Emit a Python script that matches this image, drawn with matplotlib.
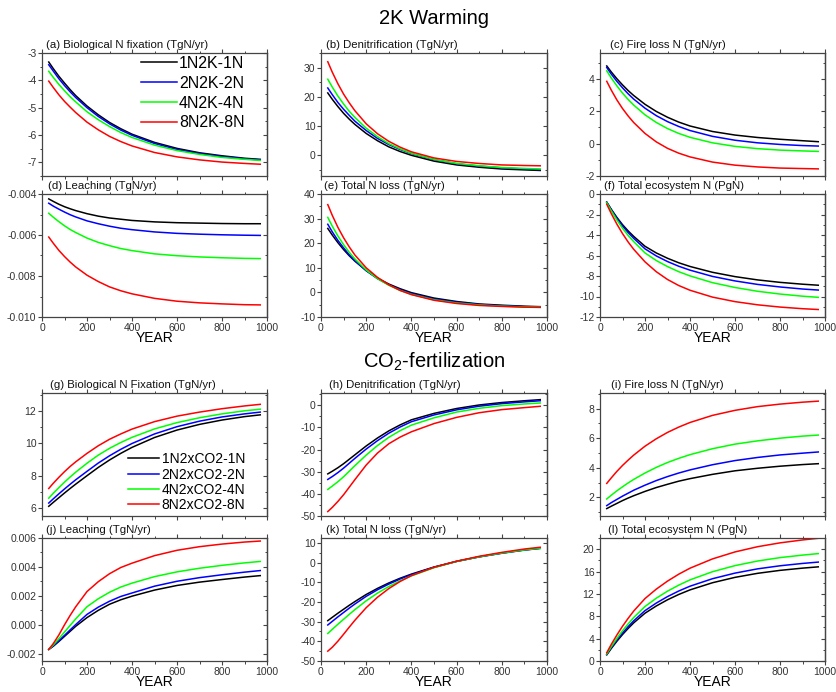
import matplotlib
matplotlib.use('Agg')
import matplotlib.pyplot as plt
from matplotlib.ticker import MultipleLocator, FormatStrFormatter

plt.rcParams['font.family'] = ['Liberation Sans', 'DejaVu Sans']
plt.rcParams['mathtext.fontset'] = 'custom'
plt.rcParams['mathtext.rm'] = 'Liberation Sans'
plt.rcParams['mathtext.it'] = 'Liberation Sans:italic'

# ---------------- data ----------------
years = [30, 50, 75, 100, 125, 150, 200, 250, 300, 350, 400, 500, 600, 700, 800, 900, 970]
labels_2k = ['1N2K-1N', '2N2K-2N', '4N2K-4N', '8N2K-8N']
labels_co2 = ['1N2xCO2-1N', '2N2xCO2-2N', '4N2xCO2-4N', '8N2xCO2-8N']
colors = ['#000000', '#0000ff', '#00ff00', '#ff0000']

# (a) Biological N fixation, 2K warming
fix_2k = [
    [-3.33, -3.57, -3.85, -4.10, -4.34, -4.56, -4.94, -5.26, -5.54, -5.77, -5.97, -6.27, -6.49, -6.65, -6.76, -6.85, -6.89],
    [-3.43, -3.66, -3.94, -4.19, -4.42, -4.63, -5.00, -5.32, -5.59, -5.82, -6.01, -6.31, -6.53, -6.68, -6.79, -6.87, -6.91],
    [-3.67, -3.89, -4.15, -4.38, -4.60, -4.79, -5.15, -5.44, -5.69, -5.91, -6.09, -6.37, -6.57, -6.71, -6.82, -6.89, -6.93],
    [-4.03, -4.26, -4.53, -4.77, -4.98, -5.18, -5.53, -5.81, -6.05, -6.24, -6.40, -6.64, -6.80, -6.91, -6.99, -7.04, -7.07],
]
# (b) Denitrification, 2K warming
denit_2k = [
    [21.3, 19.1, 16.6, 14.3, 12.3, 10.5, 7.4, 4.9, 2.8, 1.2, -0.1, -2.1, -3.4, -4.2, -4.8, -5.1, -5.3],
    [23.0, 20.7, 18.0, 15.7, 13.6, 11.6, 8.4, 5.7, 3.6, 1.9, 0.5, -1.6, -3.0, -3.8, -4.4, -4.8, -5.0],
    [26.0, 23.3, 20.2, 17.5, 15.0, 12.9, 9.2, 6.3, 3.9, 2.1, 0.6, -1.5, -2.9, -3.7, -4.3, -4.6, -4.8],
    [32.0, 28.4, 24.4, 20.9, 17.9, 15.2, 10.7, 7.3, 4.7, 2.7, 1.1, -1.0, -2.2, -2.9, -3.4, -3.6, -3.7],
]
# (c) Fire loss N, 2K warming
fire_2k = [
    [4.80, 4.43, 4.01, 3.63, 3.28, 2.97, 2.43, 1.99, 1.63, 1.33, 1.09, 0.75, 0.53, 0.38, 0.27, 0.18, 0.12],
    [4.70, 4.30, 3.85, 3.45, 3.08, 2.75, 2.19, 1.73, 1.36, 1.06, 0.81, 0.45, 0.21, 0.05, -0.05, -0.12, -0.15],
    [4.50, 4.06, 3.57, 3.12, 2.73, 2.38, 1.78, 1.31, 0.93, 0.63, 0.39, 0.05, -0.17, -0.31, -0.40, -0.45, -0.48],
    [3.85, 3.31, 2.70, 2.17, 1.71, 1.30, 0.63, 0.11, -0.29, -0.59, -0.82, -1.14, -1.33, -1.44, -1.51, -1.54, -1.56],
]
# (d) Leaching, 2K warming
leach_2k = [
    [-0.00424, -0.00436, -0.00450, -0.00462, -0.00472, -0.00481, -0.00496, -0.00508, -0.00517, -0.00523, -0.00529, -0.00536, -0.00540, -0.00542, -0.00544, -0.00545, -0.00545],
    [-0.00445, -0.00459, -0.00474, -0.00488, -0.00501, -0.00512, -0.00531, -0.00545, -0.00557, -0.00567, -0.00574, -0.00585, -0.00592, -0.00596, -0.00599, -0.00601, -0.00602],
    [-0.00494, -0.00513, -0.00535, -0.00555, -0.00573, -0.00588, -0.00615, -0.00636, -0.00652, -0.00666, -0.00676, -0.00692, -0.00701, -0.00707, -0.00711, -0.00714, -0.00715],
    [-0.00610, -0.00640, -0.00675, -0.00705, -0.00732, -0.00756, -0.00796, -0.00827, -0.00853, -0.00872, -0.00887, -0.00909, -0.00923, -0.00931, -0.00936, -0.00940, -0.00941],
]
# (e) Total N loss, 2K warming
loss_2k = [
    [26.0, 23.3, 20.2, 17.4, 14.9, 12.7, 8.9, 5.8, 3.4, 1.5, -0.1, -2.3, -3.7, -4.7, -5.2, -5.6, -5.8],
    [27.7, 24.6, 21.1, 18.1, 15.3, 12.9, 8.8, 5.6, 3.1, 1.1, -0.5, -2.7, -4.0, -4.9, -5.4, -5.8, -5.9],
    [30.5, 26.9, 22.9, 19.4, 16.3, 13.6, 9.1, 5.6, 2.9, 0.8, -0.8, -3.0, -4.3, -5.1, -5.6, -5.9, -6.0],
    [35.7, 31.3, 26.4, 22.2, 18.5, 15.2, 10.0, 6.1, 3.1, 0.8, -0.9, -3.2, -4.5, -5.3, -5.7, -6.0, -6.1],
]
# (f) Total ecosystem N, 2K warming
ecoN_2k = [
    [-0.80, -1.49, -2.28, -2.99, -3.60, -4.14, -5.10, -5.75, -6.27, -6.71, -7.07, -7.64, -8.06, -8.38, -8.62, -8.80, -8.90],
    [-0.80, -1.53, -2.37, -3.12, -3.76, -4.33, -5.35, -6.04, -6.59, -7.05, -7.43, -8.04, -8.48, -8.82, -9.07, -9.27, -9.37],
    [-0.85, -1.63, -2.53, -3.34, -4.04, -4.65, -5.75, -6.49, -7.08, -7.58, -7.99, -8.65, -9.12, -9.49, -9.76, -9.97, -10.08],
    [-1.00, -1.91, -2.94, -3.86, -4.68, -5.40, -6.62, -7.58, -8.34, -8.93, -9.39, -10.06, -10.50, -10.81, -11.03, -11.19, -11.27],
]
# (g) Biological N fixation, CO2 fertilization
fix_co2 = [
    [6.10, 6.34, 6.63, 6.92, 7.20, 7.47, 7.99, 8.50, 8.96, 9.37, 9.74, 10.35, 10.81, 11.16, 11.43, 11.64, 11.75],
    [6.30, 6.56, 6.87, 7.17, 7.46, 7.74, 8.26, 8.77, 9.22, 9.62, 9.98, 10.57, 11.02, 11.36, 11.62, 11.81, 11.92],
    [6.60, 6.90, 7.25, 7.59, 7.91, 8.21, 8.76, 9.26, 9.68, 10.04, 10.36, 10.88, 11.27, 11.57, 11.81, 12.00, 12.10],
    [7.20, 7.52, 7.89, 8.24, 8.56, 8.85, 9.37, 9.84, 10.24, 10.57, 10.87, 11.33, 11.67, 11.92, 12.13, 12.30, 12.40],
]
# (h) Denitrification, CO2 fertilization
denit_co2 = [
    [-31.0, -29.8, -28.2, -26.4, -24.4, -22.4, -18.4, -14.8, -11.6, -8.9, -6.6, -3.7, -1.5, 0.1, 1.2, 2.0, 2.5],
    [-33.5, -32.2, -30.4, -28.4, -26.2, -24.0, -19.8, -16.0, -12.65, -9.85, -7.45, -4.4, -2.1, -0.45, 0.7, 1.5, 2.0],
    [-38.0, -36.5, -34.5, -32.3, -29.8, -27.3, -22.5, -18.2, -14.5, -11.5, -9.0, -5.7, -3.1, -1.4, -0.2, 0.55, 1.0],
    [-48.0, -46.1, -43.4, -40.4, -37.0, -33.6, -27.0, -21.6, -17.4, -14.4, -12.0, -8.3, -5.5, -3.4, -2.0, -1.1, -0.5],
]
# (i) Fire loss N, CO2 fertilization
fire_co2 = [
    [1.25, 1.41, 1.60, 1.79, 1.96, 2.12, 2.41, 2.67, 2.89, 3.10, 3.27, 3.56, 3.80, 3.97, 4.11, 4.22, 4.28],
    [1.45, 1.65, 1.87, 2.09, 2.29, 2.49, 2.83, 3.14, 3.41, 3.65, 3.86, 4.21, 4.49, 4.70, 4.87, 4.99, 5.07],
    [1.90, 2.15, 2.45, 2.72, 2.98, 3.22, 3.65, 4.03, 4.36, 4.64, 4.89, 5.29, 5.60, 5.82, 6.00, 6.14, 6.21],
    [2.95, 3.32, 3.76, 4.16, 4.52, 4.86, 5.46, 5.96, 6.39, 6.75, 7.06, 7.54, 7.88, 8.13, 8.30, 8.43, 8.50],
]
# (j) Leaching, CO2 fertilization
leach_co2 = [
    [-0.0017, -0.00148, -0.00115, -0.0008, -0.00045, -0.0001, 0.0005, 0.0010, 0.00142, 0.00173, 0.00198, 0.0024, 0.00272, 0.00295, 0.00313, 0.0033, 0.0034],
    [-0.0017, -0.00146, -0.0011, -0.00073, -0.00035, 0.00002, 0.00072, 0.00122, 0.00163, 0.00196, 0.0022, 0.00267, 0.00301, 0.00326, 0.00346, 0.00364, 0.00375],
    [-0.0017, -0.0014, -0.00096, -0.0005, -0.00004, 0.00041, 0.00125, 0.0018, 0.00225, 0.00261, 0.00288, 0.00333, 0.00366, 0.00391, 0.00411, 0.00428, 0.00438],
    [-0.0017, -0.0013, -0.0007, 0.0, 0.00065, 0.00125, 0.0023, 0.00298, 0.00353, 0.00396, 0.00426, 0.00478, 0.00515, 0.0054, 0.00558, 0.00572, 0.00579],
]
# (k) Total N loss, CO2 fertilization
loss_co2 = [
    [-29.5, -27.8, -25.7, -23.7, -21.7, -19.8, -16.2, -13.1, -10.35, -7.95, -5.85, -2.25, 0.65, 2.95, 4.85, 6.45, 7.3],
    [-31.7, -29.85, -27.55, -25.35, -23.15, -21.05, -17.15, -13.8, -10.9, -8.37, -6.17, -2.4, 0.6, 2.9, 4.75, 6.35, 7.2],
    [-36.0, -33.9, -31.3, -28.8, -26.3, -23.9, -19.4, -15.5, -12.15, -9.25, -6.75, -2.6, 0.6, 2.95, 4.85, 6.45, 7.3],
    [-45.0, -43.0, -39.9, -36.4, -32.8, -29.3, -22.9, -17.6, -13.2, -9.6, -6.6, -2.4, 0.7, 3.2, 5.2, 6.9, 7.8],
]
# (l) Total ecosystem N, CO2 fertilization
ecoN_co2 = [
    [1.10, 2.23, 3.53, 4.73, 5.82, 6.83, 8.55, 9.84, 10.95, 11.90, 12.72, 14.00, 14.96, 15.68, 16.21, 16.61, 16.84],
    [1.20, 2.38, 3.75, 5.00, 6.15, 7.20, 9.01, 10.36, 11.52, 12.52, 13.38, 14.72, 15.72, 16.48, 17.03, 17.45, 17.69],
    [1.26, 2.55, 4.03, 5.40, 6.64, 7.79, 9.75, 11.23, 12.49, 13.57, 14.51, 15.97, 17.06, 17.88, 18.49, 18.94, 19.21],
    [1.49, 2.96, 4.65, 6.21, 7.63, 8.94, 11.17, 12.85, 14.29, 15.53, 16.60, 18.26, 19.51, 20.44, 21.13, 21.65, 21.95],
]

# ---------------- layout ----------------
W, H = 836, 692
fig = plt.figure(figsize=(W / 100, H / 100), dpi=100)

col_left = [42, 321, 600]
col_width = [225, 226, 225]
row_top = [53, 194, 393, 538]
ax_h = 123

panels = [
    # data, title, row, col, ylim, major, minor, fmt, title_dx(px)
    (fix_2k, '(a) Biological N fixation (TgN/yr)', 0, 0, (-7.5, -3), 1, 0.5, '%d', 4),
    (denit_2k, '(b) Denitrification (TgN/yr)', 0, 1, (-7.2, 35), 10, 5, '%d', 5),
    (fire_2k, '(c) Fire loss N (TgN/yr)', 0, 2, (-2, 5.6), 2, 1, '%d', 10),
    (leach_2k, '(d) Leaching (TgN/yr)', 1, 0, (-0.010, -0.004), 0.002, 0.001, '%.3f', 6),
    (loss_2k, '(e) Total N loss (TgN/yr)', 1, 1, (-10, 40), 10, 5, '%d', 3),
    (ecoN_2k, '(f) Total ecosystem N (PgN)', 1, 2, (-12, 0), 2, 1, '%d', 4),
    (fix_co2, '(g) Biological N Fixation (TgN/yr)', 2, 0, (5.5, 13.1), 2, 1, '%d', 8),
    (denit_co2, '(h) Denitrification (TgN/yr)', 2, 1, (-50, 5.5), 10, 5, '%d', 8),
    (fire_co2, '(i) Fire loss N (TgN/yr)', 2, 2, (0.75, 9.05), 2, 1, '%d', 11),
    (leach_co2, '(j) Leaching (TgN/yr)', 3, 0, (-0.0025, 0.006), 0.002, 0.001, '%.3f', 4),
    (loss_co2, '(k) Total N loss (TgN/yr)', 3, 1, (-50, 12.5), 10, 5, '%d', 5),
    (ecoN_co2, '(l) Total ecosystem N (PgN)', 3, 2, (0, 22), 4, 2, '%d', 8),
]

tick_color = '#333333'
spine_color = '#444444'
axes_list = []
for data, title, r, c, ylim, major, minor, fmt, dx in panels:
    left = col_left[c] / W
    bottom = 1 - (row_top[r] + ax_h) / H
    ax = fig.add_axes([left, bottom, col_width[c] / W, ax_h / H])
    labels = labels_2k if r < 2 else labels_co2
    for series, col, lab in zip(data, colors, labels):
        ax.plot(years, series, color=col, lw=1.1, label=lab)
    ax.set_xlim(0, 1000)
    ax.set_ylim(*ylim)
    ax.xaxis.set_major_locator(MultipleLocator(200))
    ax.xaxis.set_minor_locator(MultipleLocator(100))
    ax.yaxis.set_major_locator(MultipleLocator(major))
    ax.yaxis.set_minor_locator(MultipleLocator(minor))
    ax.yaxis.set_major_formatter(FormatStrFormatter(fmt))
    ax.tick_params(axis='both', which='major', direction='out', length=3,
                   width=0.8, color=spine_color, labelsize=7.5,
                   labelcolor=tick_color, pad=1.0, top=True, right=False)
    ax.tick_params(axis='both', which='minor', direction='out', length=1.8,
                   width=0.7, color=spine_color, top=True, right=False)
    for sp in ax.spines.values():
        sp.set_color(spine_color)
        sp.set_linewidth(0.9)
    secy = ax.secondary_yaxis('right')
    secy.yaxis.set_major_locator(MultipleLocator(major))
    secy.yaxis.set_minor_locator(MultipleLocator(minor))
    secy.tick_params(which='major', direction='in', length=3, width=0.8,
                     color=spine_color, labelright=False)
    secy.tick_params(which='minor', direction='in', length=1.8, width=0.7,
                     color=spine_color)
    secy.spines['right'].set_color(spine_color)
    secy.spines['right'].set_linewidth(0.9)
    if r in (1, 3):
        ax.set_xlabel('YEAR', fontsize=10, labelpad=-1)
    else:
        ax.tick_params(axis='x', labelbottom=False)
    ax.annotate(title, xy=(0, 1), xycoords='axes fraction',
                xytext=(dx * 0.72, 2.5), textcoords='offset points',
                ha='left', va='bottom', fontsize=8.2, color='#111111')
    axes_list.append(ax)

# legends
axes_list[0].legend(loc='upper right', bbox_to_anchor=(0.90, 0.975),
                    frameon=False, fontsize=11.5, handlelength=2.2,
                    handletextpad=0.15, labelspacing=0.3, borderpad=0,
                    borderaxespad=0)
axes_list[6].legend(loc='lower right', bbox_to_anchor=(0.905, 0.03),
                    frameon=False, fontsize=10, handlelength=2.2,
                    handletextpad=0.2, labelspacing=0.1, borderpad=0,
                    borderaxespad=0)

fig.text(434 / W, 1 - 18 / H, '2K Warming', ha='center', va='center',
         fontsize=14.5)
fig.text(434 / W, 1 - 362 / H, r'CO$_2$-fertilization', ha='center',
         va='center', fontsize=14.5)

fig.savefig('out.png', dpi=100)
